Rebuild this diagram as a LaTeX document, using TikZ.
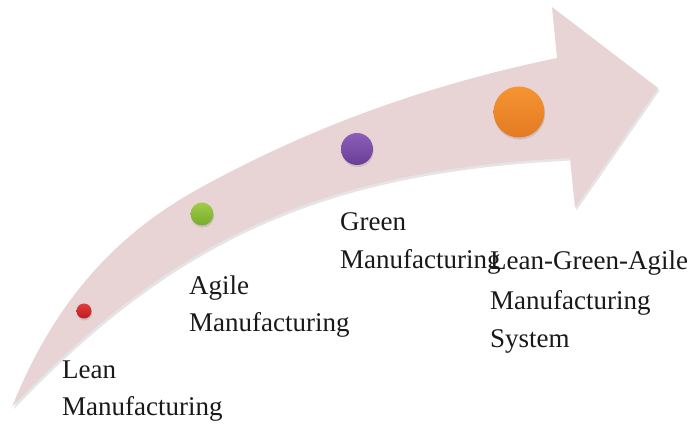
\documentclass[tikz,border=0pt]{standalone}
\usepackage{fontspec}
\setmainfont{Liberation Serif}
\usetikzlibrary{shadows}
\definecolor{arrowpink}{RGB}{232,211,213}
\definecolor{redtop}{RGB}{226,60,60}
\definecolor{redbot}{RGB}{190,28,34}
\definecolor{greentop}{RGB}{158,204,70}
\definecolor{greenbot}{RGB}{120,172,44}
\definecolor{purptop}{RGB}{140,94,184}
\definecolor{purpbot}{RGB}{106,62,150}
\definecolor{orangetop}{RGB}{246,148,50}
\definecolor{orangebot}{RGB}{226,122,34}
\begin{document}
\begin{tikzpicture}[x=1pt,y=1pt,
  lbl/.style={anchor=base west,inner sep=0pt,font=\fontsize{27}{32}\selectfont,text=black!90},
  dot/.style={circle,inner sep=0pt,drop shadow={opacity=0.25,shadow xshift=0.6pt,shadow yshift=-2pt}},
  arrowshape/.style={insert path={
    (12,19) .. controls (60,139) and (130,199.5) .. (200,238)
    .. controls (320,304) and (437,343) .. (557,368)
    -- (552,419) -- (658,338) -- (575,218) -- (570,268)
    .. controls (320,256) and (172,187) .. (12,19) -- cycle}}]
\useasboundingbox (0,0) rectangle (689,426);
% arrow shadow
\fill[black,opacity=0.10,shift={(1.5,-2.5)},arrowshape];
% arrow
\fill[arrowpink,arrowshape];
% dots
\node[dot,minimum size=15pt,top color=redtop,bottom color=redbot] (lean) at (84,115) {};
\node[dot,minimum size=23pt,top color=greentop,bottom color=greenbot] (agile) at (202,212) {};
\node[dot,minimum size=32pt,top color=purptop,bottom color=purpbot] (green) at (357,277) {};
\node[dot,minimum size=51pt,top color=orangetop,bottom color=orangebot] (lga) at (519,314) {};
% labels
\node[lbl] (t1a) at (62,47) {Lean};
\node[lbl] (t1b) at (62,10) {Manufacturing};
\node[lbl] (t2a) at (189,131) {Agile};
\node[lbl] (t2b) at (189,94) {Manufacturing};
\node[lbl] (t3a) at (340,195) {Green};
\node[lbl] (t3b) at (340,157) {Manufacturing};
\node[lbl] (t4a) at (490,156) {Lean-Green-Agile};
\node[lbl] (t4b) at (490,116) {Manufacturing};
\node[lbl] (t4c) at (490,78) {System};
\end{tikzpicture}
\end{document}
